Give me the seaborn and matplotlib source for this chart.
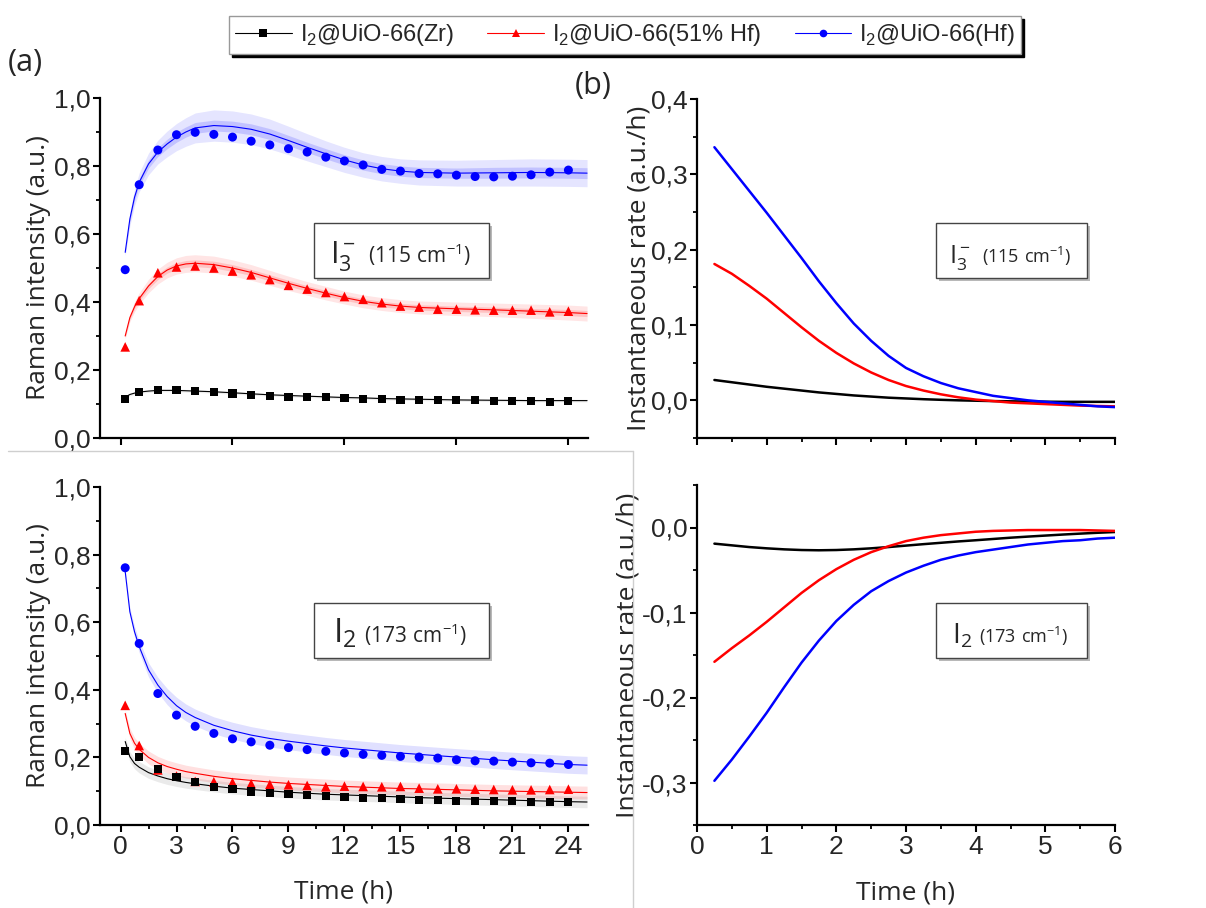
import matplotlib
matplotlib.use('Agg')
import numpy as np
import matplotlib.pyplot as plt
import seaborn as sns
from matplotlib.lines import Line2D
from matplotlib.patches import Rectangle
from matplotlib.ticker import MultipleLocator, FuncFormatter

sns.set_style('ticks')
plt.rcParams['font.family'] = ['Liberation Sans', 'DejaVu Sans']
plt.rcParams['mathtext.fontset'] = 'custom'
plt.rcParams['mathtext.rm'] = 'Liberation Sans'
plt.rcParams['mathtext.sf'] = 'Open Sans'
plt.rcParams['axes.unicode_minus'] = False

W, H = 1206, 908

SAMPLES = ['Zr', '51% Hf', 'Hf']
LABELS = ['I$_2$@UiO-66(Zr)', 'I$_2$@UiO-66(51% Hf)', 'I$_2$@UiO-66(Hf)']
COLORS = {'Zr': '#000000', '51% Hf': '#ff0000', 'Hf': '#0000ff'}
MARKERS = {'Zr': 's', '51% Hf': '^', 'Hf': 'o'}

# measurement times (h)
T_PTS = [0.25, 1, 2, 3, 4, 5, 6, 7, 8, 9, 10, 11, 12, 13, 14, 15, 16, 17, 18,
         19, 20, 21, 22, 23, 24]

# I3- (115 cm-1) intensities
I3_ZR = [0.115, 0.136, 0.140, 0.140, 0.138, 0.135, 0.131, 0.127, 0.123, 0.121,
         0.120, 0.120, 0.117, 0.115, 0.114, 0.112, 0.113, 0.112, 0.112, 0.111,
         0.109, 0.108, 0.108, 0.107, 0.109]
I3_HF51 = [0.268, 0.404, 0.486, 0.503, 0.506, 0.500, 0.491, 0.480, 0.466, 0.449,
           0.438, 0.428, 0.416, 0.408, 0.398, 0.388, 0.385, 0.379, 0.379, 0.377,
           0.376, 0.376, 0.376, 0.371, 0.373]
I3_HF = [0.495, 0.745, 0.847, 0.892, 0.899, 0.893, 0.885, 0.873, 0.862, 0.851,
         0.841, 0.826, 0.815, 0.803, 0.790, 0.785, 0.778, 0.777, 0.773, 0.769,
         0.768, 0.770, 0.774, 0.782, 0.788]

# I2 (173 cm-1) intensities
I2_ZR = [0.218, 0.202, 0.167, 0.143, 0.126, 0.113, 0.106, 0.099, 0.094, 0.091,
         0.088, 0.086, 0.083, 0.080, 0.081, 0.077, 0.075, 0.074, 0.072, 0.071,
         0.070, 0.070, 0.069, 0.068, 0.067]
I2_HF51 = [0.354, 0.235, 0.163, 0.145, 0.129, 0.128, 0.126, 0.122, 0.120, 0.119,
           0.117, 0.113, 0.115, 0.114, 0.113, 0.114, 0.109, 0.107, 0.107, 0.106,
           0.105, 0.104, 0.104, 0.105, 0.106]
I2_HF = [0.761, 0.537, 0.389, 0.325, 0.292, 0.271, 0.255, 0.246, 0.236, 0.229,
         0.223, 0.218, 0.213, 0.209, 0.206, 0.203, 0.201, 0.198, 0.193, 0.190,
         0.189, 0.186, 0.184, 0.183, 0.179]

# fitted curves and confidence bands (half widths)
FIT_T = [0.25, 0.5, 0.75, 1, 1.5, 2, 2.5, 3, 3.5, 4, 5, 6, 7, 8, 9, 10, 11, 12,
         13, 14, 15, 16, 18, 20, 22, 24, 25]

FIT_I3_ZR = [0.120, 0.128, 0.132, 0.135, 0.138, 0.140, 0.140, 0.140, 0.139, 0.138,
             0.136, 0.133, 0.130, 0.127, 0.125, 0.123, 0.121, 0.119, 0.118, 0.116,
             0.115, 0.114, 0.112, 0.111, 0.110, 0.110, 0.110]
FIT_I3_HF51 = [0.300, 0.354, 0.386, 0.410, 0.447, 0.475, 0.494, 0.506, 0.512, 0.514,
               0.510, 0.500, 0.487, 0.471, 0.455, 0.440, 0.426, 0.413, 0.402, 0.394,
               0.388, 0.384, 0.380, 0.377, 0.373, 0.369, 0.366]
FIT_I3_HF = [0.546, 0.644, 0.708, 0.752, 0.806, 0.841, 0.865, 0.885, 0.900, 0.912,
             0.919, 0.916, 0.908, 0.894, 0.875, 0.855, 0.836, 0.818, 0.803, 0.792,
             0.785, 0.781, 0.779, 0.780, 0.781, 0.780, 0.779]

BAND_I3_ZR = [0.003, 0.004, 0.004, 0.004, 0.004, 0.004, 0.004, 0.004, 0.004, 0.004,
              0.004, 0.004, 0.004, 0.004, 0.004, 0.004, 0.004, 0.004, 0.004, 0.004,
              0.004, 0.004, 0.004, 0.004, 0.004, 0.004, 0.004]
BAND_I3_HF51 = [0.008, 0.012, 0.015, 0.017, 0.020, 0.022, 0.023, 0.024, 0.025, 0.025,
                0.025, 0.024, 0.023, 0.022, 0.021, 0.020, 0.020, 0.019, 0.019, 0.019,
                0.019, 0.019, 0.020, 0.020, 0.021, 0.022, 0.022]
BAND_I3_HF = [0.010, 0.020, 0.025, 0.028, 0.032, 0.035, 0.038, 0.040, 0.042, 0.044,
              0.046, 0.046, 0.045, 0.044, 0.042, 0.040, 0.038, 0.037, 0.036, 0.036,
              0.036, 0.037, 0.038, 0.039, 0.040, 0.040, 0.040]
INNER_I3_HF51 = [0.004, 0.005, 0.006, 0.007, 0.008, 0.009, 0.009, 0.010, 0.010, 0.010,
                 0.010, 0.010, 0.009, 0.009, 0.009, 0.008, 0.008, 0.008, 0.008, 0.008,
                 0.008, 0.008, 0.008, 0.008, 0.008, 0.009, 0.009]
INNER_I3_HF = [0.005, 0.008, 0.010, 0.011, 0.012, 0.013, 0.014, 0.015, 0.015, 0.016,
               0.016, 0.016, 0.016, 0.016, 0.015, 0.015, 0.015, 0.015, 0.015, 0.015,
               0.015, 0.015, 0.015, 0.016, 0.016, 0.016, 0.016]

FIT_I2_ZR = [0.247, 0.202, 0.182, 0.171, 0.155, 0.145, 0.137, 0.131, 0.126, 0.122,
             0.115, 0.109, 0.105, 0.101, 0.097, 0.094, 0.091, 0.089, 0.087, 0.085,
             0.083, 0.081, 0.078, 0.075, 0.072, 0.069, 0.068]
FIT_I2_HF51 = [0.330, 0.271, 0.242, 0.224, 0.200, 0.184, 0.173, 0.165, 0.158, 0.153,
               0.144, 0.137, 0.132, 0.127, 0.123, 0.120, 0.117, 0.114, 0.112, 0.110,
               0.108, 0.107, 0.104, 0.101, 0.099, 0.097, 0.096]
FIT_I2_HF = [0.750, 0.631, 0.572, 0.528, 0.459, 0.414, 0.380, 0.353, 0.333, 0.318,
             0.295, 0.279, 0.266, 0.256, 0.248, 0.241, 0.234, 0.228, 0.223, 0.218,
             0.213, 0.209, 0.201, 0.193, 0.186, 0.179, 0.177]

BAND_I2_ZR = [0.012, 0.015, 0.016, 0.017, 0.017, 0.017, 0.017, 0.017, 0.017, 0.017,
              0.017, 0.017, 0.017, 0.017, 0.017, 0.017, 0.017, 0.017, 0.017, 0.017,
              0.017, 0.017, 0.017, 0.017, 0.017, 0.017, 0.017]
BAND_I2_HF51 = [0.010, 0.015, 0.017, 0.018, 0.019, 0.019, 0.019, 0.019, 0.019, 0.019,
                0.019, 0.019, 0.019, 0.019, 0.019, 0.019, 0.019, 0.019, 0.019, 0.019,
                0.019, 0.019, 0.019, 0.019, 0.019, 0.019, 0.019]
BAND_I2_HF = [0.005, 0.012, 0.016, 0.018, 0.021, 0.023, 0.024, 0.025, 0.025, 0.025,
              0.025, 0.025, 0.025, 0.025, 0.025, 0.025, 0.025, 0.025, 0.025, 0.025,
              0.025, 0.025, 0.025, 0.026, 0.026, 0.026, 0.026]

# instantaneous rates (derivative of the fits), read every 0.25 h
RATE_T = [0.25, 0.5, 0.75, 1.0, 1.25, 1.5, 1.75, 2.0, 2.25, 2.5, 2.75, 3.0,
          3.25, 3.5, 3.75, 4.0, 4.25, 4.5, 4.75, 5.0, 5.25, 5.5, 5.75, 6.0]
RATE_I3_ZR = [0.027, 0.024, 0.021, 0.018, 0.0155, 0.013, 0.0105, 0.0085, 0.0065,
              0.005, 0.0035, 0.0025, 0.0015, 0.0007, 0.0, -0.0005, -0.001, -0.0013,
              -0.0016, -0.0018, -0.002, -0.002, -0.002, -0.002]
RATE_I3_HF51 = [0.181, 0.168, 0.152, 0.135, 0.116, 0.097, 0.079, 0.063, 0.049, 0.037,
                0.027, 0.019, 0.013, 0.008, 0.004, 0.001, -0.001, -0.003, -0.004,
                -0.005, -0.006, -0.007, -0.0075, -0.008]
RATE_I3_HF = [0.336, 0.307, 0.278, 0.249, 0.219, 0.189, 0.158, 0.129, 0.102, 0.079,
              0.059, 0.043, 0.032, 0.023, 0.016, 0.011, 0.006, 0.003, 0.0, -0.002,
              -0.004, -0.006, -0.008, -0.009]
RATE_I2_ZR = [-0.019, -0.021, -0.023, -0.0245, -0.0257, -0.0265, -0.0268, -0.0265,
              -0.0257, -0.0245, -0.023, -0.0213, -0.0196, -0.018, -0.0164, -0.015,
              -0.0135, -0.012, -0.0107, -0.0095, -0.0083, -0.0072, -0.0062, -0.0053]
RATE_I2_HF51 = [-0.158, -0.142, -0.127, -0.111, -0.094, -0.077, -0.062, -0.049,
                -0.038, -0.029, -0.022, -0.016, -0.012, -0.009, -0.007, -0.005,
                -0.004, -0.0035, -0.003, -0.003, -0.003, -0.003, -0.0035, -0.004]
RATE_I2_HF = [-0.298, -0.273, -0.246, -0.218, -0.188, -0.159, -0.133, -0.110,
              -0.091, -0.075, -0.063, -0.053, -0.045, -0.038, -0.033, -0.029,
              -0.026, -0.023, -0.020, -0.018, -0.016, -0.015, -0.013, -0.012]


def fx(x):
    return x / W


def fy(y):
    return 1 - y / H


def add_ax(fig, l, t, r, b):
    return fig.add_axes([l / W, 1 - b / H, (r - l) / W, (b - t) / H])


comma = FuncFormatter(lambda v, p: f'{round(v, 6) + 0:.1f}'.replace('.', ','))


def style_ax(ax):
    sns.despine(ax=ax)
    for s in ['left', 'bottom']:
        ax.spines[s].set_linewidth(1.6)
        ax.spines[s].set_color('black')
    ax.tick_params(which='major', direction='out', length=5, width=1.5,
                   labelsize=19, pad=2, color='black')
    ax.tick_params(which='minor', direction='out', length=3, width=1.3, color='black')
    ax.set_facecolor('white')


def draw_kinetics(ax, fits, bands, inners, points, alpha_out):
    for key, fit, band, inner in zip(SAMPLES, fits, bands, inners):
        f = np.array(fit)
        b = np.array(band)
        c = COLORS[key]
        ax.fill_between(FIT_T, f - b, f + b, color=c if key != 'Zr' else '#555555',
                        alpha=alpha_out, lw=0)
        if inner is not None:
            i = np.array(inner)
            ax.fill_between(FIT_T, f - i, f + i, color=c, alpha=0.15, lw=0)
        sns.lineplot(x=FIT_T, y=fit, color=c, lw=0.8, ax=ax, sort=False)
    for key in ['51% Hf', 'Hf', 'Zr']:
        y = points[SAMPLES.index(key)]
        size = {'Zr': 34, '51% Hf': 48, 'Hf': 42}[key]
        sns.scatterplot(x=T_PTS, y=y, marker=MARKERS[key], color=COLORS[key],
                        s=size, edgecolor='none', ax=ax, zorder=4)


def text_box(fig, x0, y0, x1, y1, big, small, bx, sx, base, bfs, sfs):
    fig.add_artist(Rectangle((fx(x0 + 3), fy(y1 + 3)), (x1 - x0) / W, (y1 - y0) / H,
                             transform=fig.transFigure, fc='#b8b8b8', ec='none', zorder=5))
    fig.add_artist(Rectangle((fx(x0), fy(y1)), (x1 - x0) / W, (y1 - y0) / H,
                             transform=fig.transFigure, fc='white', ec='#444444',
                             lw=1.0, zorder=6))
    fig.text(fx(bx), fy(base), big, fontsize=bfs, va='baseline', zorder=7)
    fig.text(fx(sx), fy(base), small, fontsize=sfs, va='baseline', zorder=7)


fig = plt.figure(figsize=(W / 100, H / 100), dpi=100)
fig.patch.set_facecolor('white')

ax_tl = add_ax(fig, 100, 98, 588, 438)
ax_bl = add_ax(fig, 100, 487, 588, 825)
ax_tr = add_ax(fig, 697, 99, 1115, 438)
ax_br = add_ax(fig, 697, 485, 1115, 825)

# (a) kinetics
draw_kinetics(ax_tl, [FIT_I3_ZR, FIT_I3_HF51, FIT_I3_HF],
              [BAND_I3_ZR, BAND_I3_HF51, BAND_I3_HF],
              [None, INNER_I3_HF51, INNER_I3_HF],
              [I3_ZR, I3_HF51, I3_HF], 0.1)
draw_kinetics(ax_bl, [FIT_I2_ZR, FIT_I2_HF51, FIT_I2_HF],
              [BAND_I2_ZR, BAND_I2_HF51, BAND_I2_HF],
              [None, None, None],
              [I2_ZR, I2_HF51, I2_HF], 0.12)

for ax in (ax_tl, ax_bl):
    style_ax(ax)
    ax.set_xlim(-1.1, 25.05)
    ax.set_ylim(0, 1.0)
    ax.yaxis.set_major_locator(MultipleLocator(0.2))
    ax.yaxis.set_minor_locator(MultipleLocator(0.1))
    ax.yaxis.set_major_formatter(comma)
    ax.set_ylabel('Raman intensity (a.u.)', family='Open Sans', fontsize=19)
    ax.yaxis.set_label_coords(-0.1, 0.5)
ax_tl.xaxis.set_major_locator(MultipleLocator(6))
ax_tl.set_xticklabels([])
ax_tl.set_xlabel('')
ax_bl.xaxis.set_major_locator(MultipleLocator(3))
ax_bl.xaxis.set_minor_locator(MultipleLocator(1.5))
ax_bl.set_xlabel('Time (h)', family='Open Sans', fontsize=19)
ax_bl.xaxis.set_label_coords(0.5, -0.162)

# (b) rates
for ax, rates in ((ax_tr, [RATE_I3_ZR, RATE_I3_HF51, RATE_I3_HF]),
                  (ax_br, [RATE_I2_ZR, RATE_I2_HF51, RATE_I2_HF])):
    for key, r in zip(SAMPLES, rates):
        sns.lineplot(x=RATE_T, y=r, color=COLORS[key], lw=1.8, ax=ax, sort=False)
    style_ax(ax)
    ax.set_xlim(0, 6)
    ax.xaxis.set_major_locator(MultipleLocator(1))
    ax.xaxis.set_minor_locator(MultipleLocator(0.5))
    ax.yaxis.set_major_locator(MultipleLocator(0.1))
    ax.yaxis.set_minor_locator(MultipleLocator(0.05))
    ax.yaxis.set_major_formatter(comma)
    ax.set_ylabel('Instantaneous rate (a.u./h)', family='Open Sans', fontsize=19)
ax_tr.yaxis.set_label_coords(-0.11, 0.5)
ax_br.yaxis.set_label_coords(-0.135, 0.5)
ax_tr.set_ylim(-0.05, 0.4)
ax_tr.set_xticklabels([])
ax_tr.set_xlabel('')
ax_br.set_ylim(-0.35, 0.05)
ax_br.set_xlabel('Time (h)', family='Open Sans', fontsize=19)
ax_br.xaxis.set_label_coords(0.5, -0.162)

# page frame lines of the pasted panel
fig.add_artist(Line2D([fx(8), fx(633)], [fy(451), fy(451)], color='#cfcfcf', lw=1,
                      transform=fig.transFigure))
fig.add_artist(Line2D([fx(633), fx(633)], [fy(451), fy(908)], color='#cfcfcf', lw=1,
                      transform=fig.transFigure))

# species boxes
big3 = r'$\mathsf{I_3^-}$'
big2 = r'$\mathsf{I_2}$'
text_box(fig, 314, 223, 489, 278, big3, r'$\mathsf{(115\ cm^{-1})}$', 330, 368, 263, 22, 15)
text_box(fig, 936, 223, 1087, 278, big3, r'$\mathsf{(115\ cm^{-1})}$', 949, 982, 263, 18, 13)
text_box(fig, 314, 603, 489, 658, big2, r'$\mathsf{(173\ cm^{-1})}$', 333, 364, 643, 24, 15)
text_box(fig, 936, 603, 1087, 658, big2, r'$\mathsf{(173\ cm^{-1})}$', 952, 979, 643, 20, 13)

# panel letters
fig.text(fx(8), fy(48), '(a)', family='Open Sans', fontsize=22, va='top')
fig.text(fx(575), fy(71), '(b)', family='Open Sans', fontsize=22, va='top')

# legend
handles = [Line2D([0], [0], color=COLORS[k], lw=0.8, marker=MARKERS[k], ms=5.5,
                  markeredgewidth=0) for k in SAMPLES]
leg = fig.legend(handles, LABELS, loc='center', bbox_to_anchor=(fx(625), fy(35)),
                 ncol=3, fontsize=17, frameon=True, fancybox=False,
                 shadow={'color': 'black', 'alpha': 1}, handlelength=2.4,
                 handletextpad=0.35, columnspacing=1.4, borderpad=0.25,
                 borderaxespad=0)
leg.get_frame().set_edgecolor('#999999')
leg.get_frame().set_linewidth(1.0)

fig.savefig('out.png', dpi=100, facecolor='white')
